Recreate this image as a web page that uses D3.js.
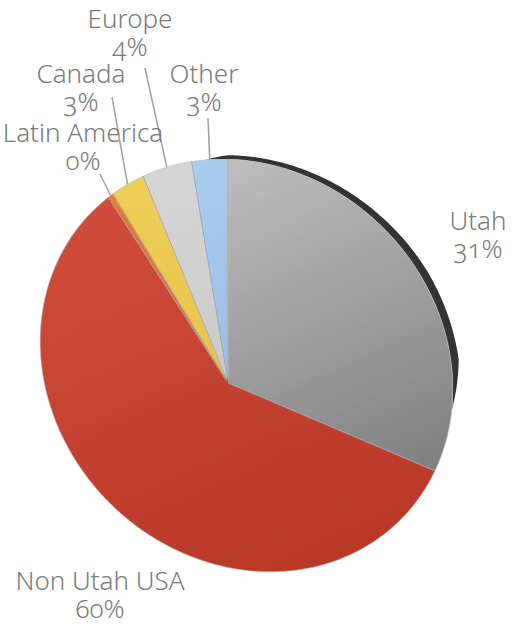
<!DOCTYPE html>
<html>
<head>
<meta charset="utf-8">
<script src="https://cdn.jsdelivr.net/npm/d3@7/dist/d3.min.js"></script>
<style>
  html, body { margin: 0; padding: 0; background: #fff; }
  svg text { font-family: "Noto Sans", "Lato", sans-serif; font-weight: 300; fill: #7b7b7b;
             font-feature-settings: "onum" 1; }
</style>
</head>
<body>
<svg id="chart" width="516" height="627"></svg>
<script>
// data (percent of total)
const categories = ["Utah", "Non Utah USA", "Latin America", "Canada", "Europe", "Other"];
const shares = [31.4, 59.5, 0.4, 2.5, 3.6, 2.6];
const topColors = ["#c8c8c8", "#d4503d", "#e8813a", "#f4d35c", "#dcdcdc", "#afd2f3"];
const bottomColors = ["#7d7d7d", "#be3b2b", "#d4662a", "#e7bd3c", "#c2c2c2", "#8db6e2"];

// label layout: [centre x, first baseline y], leader start (null = no leader)
const labelPos = [[478, 230], [100, 590], [83, 142], [81, 83], [130, 28], [204, 83]];
const leaderStart = [null, null, [100, 174], [112, 97], [145, 68], [208, 118]];

let svg = d3.select("#chart");
let defs = svg.append("defs");

// tilted disc: outer rim is a rotated ellipse, slices meet at an off-centre apex
let rim = { cx: 246.5, cy: 365.5, a: 218, b: 194, rot: Math.PI / 4 };
let apex = [228, 383];

function rimPoint(theta) {
  // ray from apex, theta clockwise from 12 o'clock
  let dx = Math.sin(theta), dy = -Math.cos(theta);
  let c = Math.cos(-rim.rot), s = Math.sin(-rim.rot);
  let ox = apex[0] - rim.cx, oy = apex[1] - rim.cy;
  let px = ox * c - oy * s, py = ox * s + oy * c;
  let qx = dx * c - dy * s, qy = dx * s + dy * c;
  let A = qx * qx / (rim.a * rim.a) + qy * qy / (rim.b * rim.b);
  let B = 2 * (px * qx / (rim.a * rim.a) + py * qy / (rim.b * rim.b));
  let C = px * px / (rim.a * rim.a) + py * py / (rim.b * rim.b) - 1;
  let t = (-B + Math.sqrt(B * B - 4 * A * C)) / (2 * A);
  return [apex[0] + t * dx, apex[1] + t * dy];
}

function arcPoints(a0, a1) {
  let n = Math.max(2, Math.ceil((a1 - a0) / 0.01));
  return d3.range(n + 1).map(i => rimPoint(a0 + (a1 - a0) * i / n));
}

let pie = d3.pie().sort(null).value(d => d);
let arcs = pie(shares);
let line = d3.line();

// noise texture
let noise = defs.append("filter").attr("id", "grain")
  .attr("x", 0).attr("y", 0).attr("width", 1).attr("height", 1);
noise.append("feTurbulence").attr("type", "fractalNoise").attr("baseFrequency", 0.9)
  .attr("numOctaves", 2).attr("seed", 3).attr("result", "n");
noise.append("feColorMatrix").attr("in", "n").attr("type", "matrix")
  .attr("values", "0 0 0 0 0  0 0 0 0 0  0 0 0 0 0  0 0 0 0.10 0").attr("result", "na");
noise.append("feComposite").attr("in", "na").attr("in2", "SourceGraphic").attr("operator", "in").attr("result", "nc");
noise.append("feMerge").selectAll("feMergeNode").data(["SourceGraphic", "nc"]).enter()
  .append("feMergeNode").attr("in", d => d);

arcs.forEach((d, i) => {
  let g = defs.append("linearGradient").attr("id", "grad" + i)
    .attr("gradientUnits", "userSpaceOnUse")
    .attr("x1", 150).attr("y1", 160).attr("x2", 330).attr("y2", 560);
  g.append("stop").attr("offset", 0).attr("stop-color", topColors[i]);
  g.append("stop").attr("offset", 1).attr("stop-color", bottomColors[i]);
});

// dark side of the raised Utah slice
let deg = Math.PI / 180;
let thick = d3.scaleLinear().domain([-6, 0, 60, 84, 97].map(v => v * deg))
  .range([0, 4, 8, 8, 0]).clamp(true);
let sideAngles = d3.range(-6 * deg, 97 * deg, 0.01);
let inner = sideAngles.map(rimPoint);
let outer = sideAngles.map((th, k) => {
  let p = inner[k];
  let vx = p[0] - rim.cx, vy = p[1] - rim.cy, len = Math.hypot(vx, vy);
  return [p[0] + vx / len * thick(th), p[1] + vy / len * thick(th)];
});
svg.append("path")
  .attr("d", line(outer.concat(inner.slice().reverse())) + "Z")
  .attr("fill", "#333");

// slices
svg.append("g").attr("filter", "url(#grain)")
  .selectAll("path")
  .data(arcs)
  .enter()
  .append("path")
  .attr("d", d => line([apex].concat(arcPoints(d.startAngle, d.endAngle))) + "Z")
  .attr("fill", (d, i) => "url(#grad" + i + ")")
  .attr("stroke", "rgba(255,255,255,0.55)")
  .attr("stroke-width", 1)
  .attr("stroke-linejoin", "round");

// thin dark separators
svg.append("g")
  .selectAll("path")
  .data(arcs)
  .enter()
  .append("path")
  .attr("d", d => line([apex, rimPoint(d.startAngle)]))
  .attr("stroke", "rgba(40,40,60,0.45)")
  .attr("stroke-width", 0.8)
  .attr("fill", "none");

// soft rim outline
svg.append("path")
  .attr("d", line(arcPoints(0, 2 * Math.PI)) + "Z")
  .attr("fill", "none")
  .attr("stroke", "rgba(0,0,0,0.18)")
  .attr("stroke-width", 0.8);

// leader lines
svg.append("g")
  .selectAll("line")
  .data(arcs.filter((d, i) => leaderStart[i]))
  .enter()
  .append("line")
  .attr("x1", d => leaderStart[d.index][0])
  .attr("y1", d => leaderStart[d.index][1])
  .attr("x2", d => rimPoint((d.startAngle + d.endAngle) / 2)[0])
  .attr("y2", d => rimPoint((d.startAngle + d.endAngle) / 2)[1])
  .attr("stroke", "#a0a0a0")
  .attr("stroke-width", 1.5);

// labels
let labels = svg.append("g")
  .selectAll("text")
  .data(arcs)
  .enter()
  .append("text")
  .attr("text-anchor", "middle")
  .attr("font-size", 26);
labels.append("tspan")
  .attr("x", d => labelPos[d.index][0])
  .attr("y", d => labelPos[d.index][1])
  .text(d => categories[d.index]);
labels.append("tspan")
  .attr("x", d => labelPos[d.index][0])
  .attr("y", d => labelPos[d.index][1] + 28)
  .text(d => Math.round(d.data) + "%");
</script>
</body>
</html>
